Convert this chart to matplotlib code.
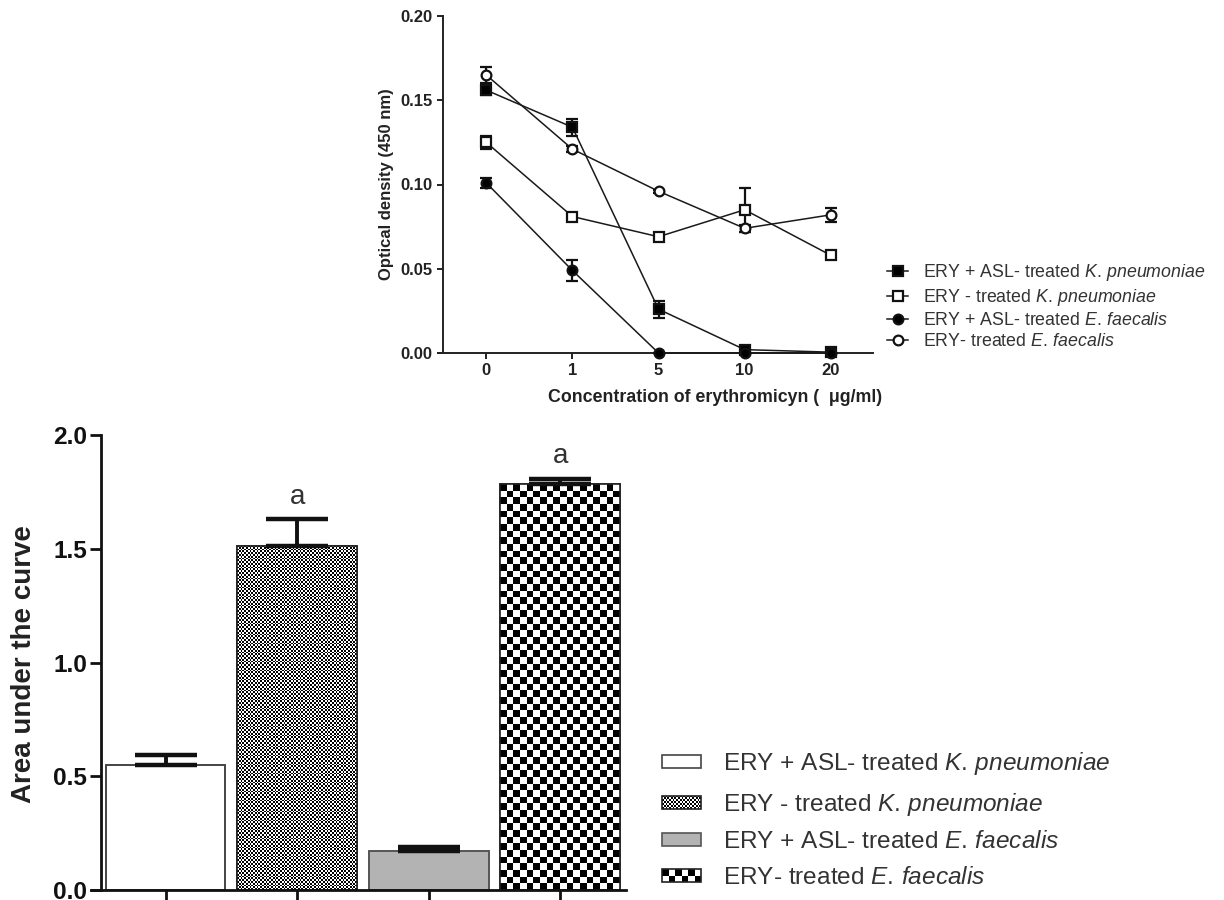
import numpy as np
import matplotlib
matplotlib.use('Agg')
import matplotlib.pyplot as plt
from matplotlib.patches import Rectangle
from matplotlib.collections import PatchCollection
from matplotlib.colors import ListedColormap

plt.rcParams['font.family'] = ['Liberation Sans', 'DejaVu Sans']
plt.rcParams['mathtext.fontset'] = 'custom'
plt.rcParams['mathtext.rm'] = 'Liberation Sans'
plt.rcParams['mathtext.it'] = 'Liberation Sans:italic'
plt.rcParams['mathtext.bf'] = 'Liberation Sans:bold'

# ---------------- data ----------------
conc_labels = ['0', '1', '5', '10', '20']
od_ticks = [0.00, 0.05, 0.10, 0.15, 0.20]
od_tick_labels = ['0.00', '0.05', '0.10', '0.15', '0.20']

series_labels = [
    r'ERY + ASL- treated $\mathit{K.\,pneumoniae}$',
    r'ERY - treated $\mathit{K.\,pneumoniae}$',
    r'ERY + ASL- treated $\mathit{E.\,faecalis}$',
    r'ERY- treated $\mathit{E.\,faecalis}$',
]
od_kp_asl = [0.156, 0.134, 0.026, 0.002, 0.0005]
od_kp_asl_err = [0.003, 0.005, 0.005, 0.001, 0.001]
od_kp = [0.125, 0.081, 0.069, 0.085, 0.058]
od_kp_err = [0.004, 0.002, 0.002, 0.013, 0.002]
od_ef_asl = [0.101, 0.049, 0.0, 0.0, 0.0]
od_ef_asl_err = [0.003, 0.006, 0.0, 0.0, 0.0]
od_ef = [0.165, 0.121, 0.096, 0.074, 0.082]
od_ef_err = [0.005, 0.002, 0.001, 0.002, 0.004]

auc_values = [0.551, 1.513, 0.172, 1.783]
auc_err = [0.044, 0.118, 0.016, 0.025]
sig_letters = ['', 'a', '', 'a']
auc_ticks = [0.0, 0.5, 1.0, 1.5, 2.0]
auc_tick_labels = ['0.0', '0.5', '1.0', '1.5', '2.0']

# ---------------- figure ----------------
W, H = 1224, 900
fig = plt.figure(figsize=(W / 100, H / 100), dpi=100)


def px_axes(l, t, r, b):
    return fig.add_axes([l / W, 1 - b / H, (r - l) / W, (b - t) / H])


# ================= top line chart =================
ax1 = px_axes(438, 16, 873, 353)
xs = np.arange(len(conc_labels))
styles = [
    dict(marker='s', mfc='k'),
    dict(marker='s', mfc='white'),
    dict(marker='o', mfc='k'),
    dict(marker='o', mfc='white'),
]
series = [(od_kp_asl, od_kp_asl_err), (od_kp, od_kp_err),
          (od_ef_asl, od_ef_asl_err), (od_ef, od_ef_err)]
handles = []
for (vals, errs), st in zip(series, styles):
    c = ax1.errorbar(xs, vals, yerr=errs, color='#1a1a1a', lw=1.1,
                     marker=st['marker'], mfc=st['mfc'], mec='#111111',
                     ms=7, mew=1.6, elinewidth=1.6, ecolor='#111111',
                     capsize=4, capthick=1.6, zorder=3)
    for art in c.get_children():
        art.set_clip_on(False)
    handles.append(c.lines[0])

ax1.set_xlim(-0.56, 4.49)
ax1.set_ylim(0, 0.20)
ax1.spines['top'].set_visible(False)
ax1.spines['right'].set_visible(False)
ax1.spines['left'].set_position(('data', -0.5))
for s in ('left', 'bottom'):
    ax1.spines[s].set_linewidth(1.4)
    ax1.spines[s].set_color('#222222')
ax1.set_xticks(xs, conc_labels, fontweight='bold', fontsize=12)
ax1.set_yticks(od_ticks, od_tick_labels, fontweight='bold', fontsize=12)
ax1.tick_params(direction='out', length=4.5, width=1.4, pad=3, colors='#222222')
ax1.set_xlabel('Concentration of erythromicyn (  \u03bcg/ml)', fontweight='bold',
               fontsize=12.8, va='center', color='#222222')
ax1.xaxis.set_label_coords(0.637, (353 - 397) / 337)
ax1.set_ylabel('Optical density (450 nm)', fontweight='bold', fontsize=12,
               va='center', color='#222222')
ax1.yaxis.set_label_coords((386 - 438) / 435, 0.5)

ax1.legend(handles, series_labels, loc='upper left',
           bbox_to_anchor=(887 / W, 1 - 262 / H), bbox_transform=fig.transFigure,
           frameon=False, fontsize=12.8, handlelength=1.2, handletextpad=0.8,
           labelspacing=0.22, borderpad=0, borderaxespad=0, labelcolor='#333333')

# ================= bottom bar chart =================
ax2 = px_axes(91, 435, 626, 890)
xb = np.arange(len(auc_values))
faces = ['white', 'white', '#b3b3b3', 'white']
edges = ['#444444', '#222222', '#555555', '#222222']
bars = ax2.bar(xb, auc_values, width=0.91, color=faces, edgecolor=edges,
               linewidth=1.2, zorder=2)
XL = (-0.567, 3.5)
YL = (0, 2.0)
ax2.set_xlim(*XL)
ax2.set_ylim(*YL)

checker_black_white = ListedColormap(['white', 'black'])
cells = [None, 1.8, None, 6.6]


def checker_fill(ax, rect, cell_px):
    x0, y0 = rect.get_xy()
    w, h = rect.get_width(), rect.get_height()
    p0 = ax.transData.transform((x0, y0))
    p1 = ax.transData.transform((x0 + w, y0 + h))
    nx = max(1, int(round((p1[0] - p0[0]) / cell_px)))
    ny = max(1, int(round((p1[1] - p0[1]) / cell_px)))
    ii, jj = np.meshgrid(np.arange(ny), np.arange(nx), indexing='ij')
    arr = (((ny - 1 - ii) + jj) % 2 == 0).astype(int)
    im = ax.imshow(arr, cmap=checker_black_white, vmin=0, vmax=1,
                   extent=(x0, x0 + w, y0, y0 + h), origin='lower',
                   interpolation='nearest', aspect='auto', zorder=2.1)
    im.set_clip_path(rect)


for rect, cell in zip(bars.patches, cells):
    if cell:
        checker_fill(ax2, rect, cell)
# redraw outlines on top of the pattern
for rect, ec in zip(bars.patches, edges):
    ax2.add_patch(Rectangle(rect.get_xy(), rect.get_width(), rect.get_height(),
                            facecolor='none', edgecolor=ec, lw=1.2, zorder=2.2))

ax2.errorbar(xb, auc_values, yerr=[np.zeros(len(auc_err)), auc_err], fmt='none',
             ecolor='#111111', elinewidth=2.8, capsize=22, capthick=3.2, zorder=3)
for xi, v, e, letter in zip(xb, auc_values, auc_err, sig_letters):
    if letter:
        ax2.annotate(letter, (xi, v + e), xytext=(0, 11), textcoords='offset points',
                     ha='center', va='baseline', fontsize=20, color='#333333')

ax2.set_xlim(*XL)
ax2.set_ylim(*YL)
ax2.spines['top'].set_visible(False)
ax2.spines['right'].set_visible(False)
ax2.spines['left'].set_position(('data', -0.49))
for s in ('left', 'bottom'):
    ax2.spines[s].set_linewidth(2.0)
    ax2.spines[s].set_color('#111111')
ax2.set_xticks(xb, ['' for _ in xb])
ax2.set_yticks(auc_ticks, auc_tick_labels, fontweight='bold', fontsize=17.6)
ax2.tick_params(direction='out', length=8, width=2.0, pad=2, colors='#111111')
ax2.set_ylabel('Area under the curve', fontweight='bold', fontsize=20,
               va='center', color='#222222')
ax2.yaxis.set_label_coords((24 - 91) / 535, (890 - 664) / 455)


class PatternHandler:
    def __init__(self, face, edge, cell_pt=None):
        self.face, self.edge, self.cell = face, edge, cell_pt

    def legend_artist(self, legend, orig_handle, fontsize, handlebox):
        x0, y0 = -handlebox.xdescent, -handlebox.ydescent
        w, h = handlebox.width, handlebox.height
        ph = 9.4
        yb = y0 + (h - ph) / 2
        bg = Rectangle((x0, yb), w, ph, facecolor=self.face, edgecolor='none')
        handlebox.add_artist(bg)
        if self.cell:
            nx = int(round(w / self.cell))
            ny = max(1, int(round(ph / self.cell)))
            cw, chh = w / nx, ph / ny
            sq = [Rectangle((x0 + j * cw, yb + (ny - 1 - i) * chh), cw, chh)
                  for i in range(ny) for j in range(nx) if (i + j) % 2 == 0]
            handlebox.add_artist(PatchCollection(sq, facecolor='black', edgecolor='none'))
        outline = Rectangle((x0, yb), w, ph, facecolor='none', edgecolor=self.edge, lw=1.2)
        handlebox.add_artist(outline)
        return outline


hmap = {}
for rect, fc, ec, cell in zip(bars.patches, faces, edges, cells):
    hmap[rect] = PatternHandler(fc, ec, None if cell is None else cell * 0.72)

ax2.legend(list(bars.patches), series_labels, handler_map=hmap, loc='upper left',
           bbox_to_anchor=(662 / W, 1 - 750 / H), bbox_transform=fig.transFigure,
           frameon=False, fontsize=17.6, handlelength=1.6, handletextpad=0.88,
           labelspacing=0.56, borderpad=0, borderaxespad=0, labelcolor='#333333')

fig.savefig('out.png', dpi=100, facecolor='white')
